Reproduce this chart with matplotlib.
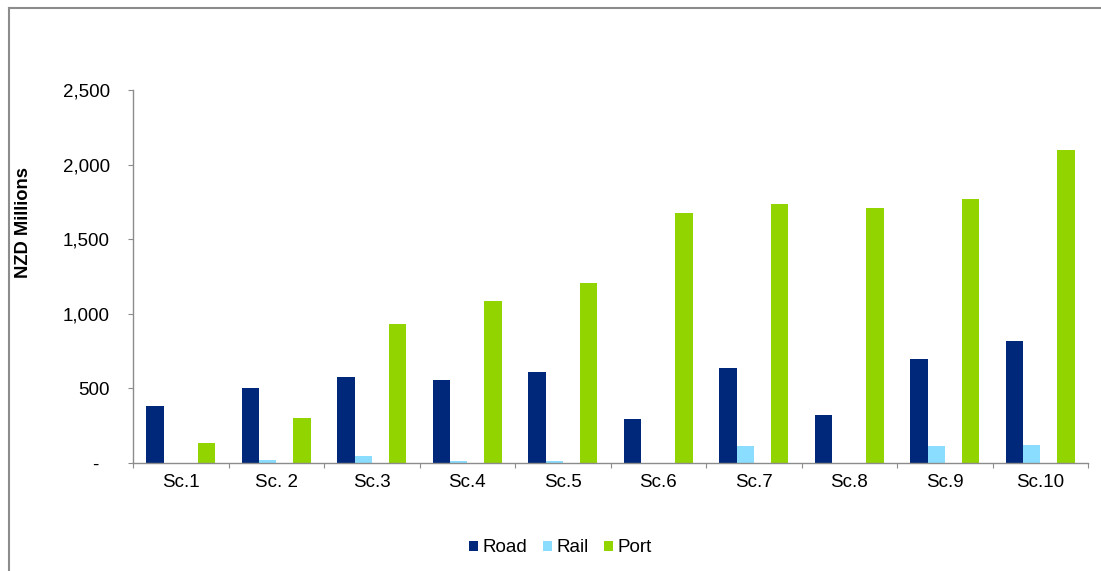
import numpy as np
import matplotlib
matplotlib.use('Agg')
import matplotlib.pyplot as plt
from matplotlib.lines import Line2D
from matplotlib.ticker import FuncFormatter

plt.rcParams['font.family'] = ['Liberation Sans', 'DejaVu Sans']

categories = ['Sc.1', 'Sc. 2', 'Sc.3', 'Sc.4', 'Sc.5', 'Sc.6', 'Sc.7', 'Sc.8', 'Sc.9', 'Sc.10']
road = [382, 503, 578, 558, 608, 293, 637, 322, 695, 820]
rail = [0, 22, 47, 15, 13, 0, 112, 0, 112, 121]
port = [136, 302, 932, 1086, 1204, 1675, 1736, 1709, 1769, 2098]

road_color = '#00287A'
rail_color = '#8ADDFF'
port_color = '#92D400'
axis_color = '#8C8C8C'
fs = 13.5

fig = plt.figure(figsize=(11.01, 5.71), dpi=100)
ax = fig.add_axes([133/1101, 1-463/571, (1088-133)/1101, (463-90)/571])

x = np.arange(len(categories))
w = 0.18
ax.bar(x - 0.27, road, w, color=road_color, label='Road')
ax.bar(x - 0.09, rail, w, color=rail_color, label='Rail')
ax.bar(x + 0.27, port, w, color=port_color, label='Port')

ax.set_xlim(-0.5, len(categories) - 0.5)
ax.set_ylim(0, 2500)

# ticks at category boundaries, labels in the middle
ax.set_xticks(np.arange(len(categories) + 1) - 0.5)
ax.set_xticklabels([])
ax.set_xticks(x, minor=True)
ax.set_xticklabels(categories, minor=True, fontsize=fs)
ax.tick_params(axis='x', which='major', direction='out', length=3.6, color=axis_color)
ax.tick_params(axis='x', which='minor', length=0, pad=8)

ax.set_yticks(np.arange(0, 2501, 500))
ax.yaxis.set_major_formatter(FuncFormatter(lambda v, p: '-  ' if v == 0 else f'{int(v):,}'))
ax.tick_params(axis='y', direction='out', length=3.6, color=axis_color, labelsize=fs, pad=13)

for s in ['top', 'right']:
    ax.spines[s].set_visible(False)
for s in ['left', 'bottom']:
    ax.spines[s].set_color(axis_color)
    ax.spines[s].set_linewidth(1)

ax.set_ylabel('NZD Millions', fontsize=13.2, fontweight='bold')
ax.yaxis.set_label_coords(-101/955, (463-222)/373)

fig.legend(loc='center', bbox_to_anchor=(0.509, 1-548/571), ncol=3, frameon=False,
           fontsize=fs, handlelength=0.48, handleheight=0.48, handletextpad=0.25,
           columnspacing=0.8)

# outer frame (only left and top edges visible)
fig.add_artist(Line2D([9/1101, 9/1101], [0, 1-8/571], color='#8C8C8C', lw=1.5,
                      transform=fig.transFigure))
fig.add_artist(Line2D([9/1101, 1], [1-8/571, 1-8/571], color='#8C8C8C', lw=1.5,
                      transform=fig.transFigure))

fig.savefig('out.png', dpi=100)
